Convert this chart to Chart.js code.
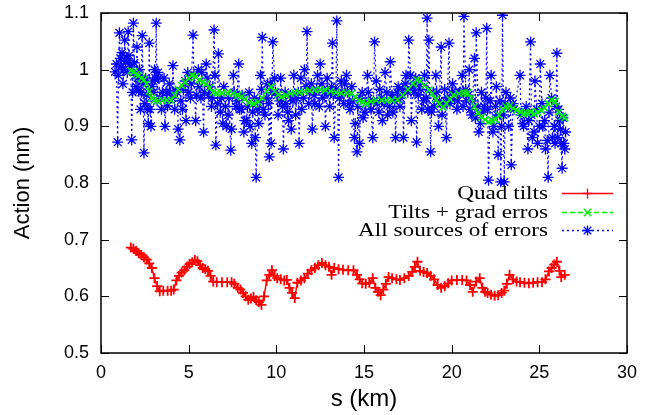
<!DOCTYPE html>
<html>
<head>
<meta charset="utf-8">
<script src="https://cdn.jsdelivr.net/npm/chart.js"></script>
<style>
  html, body { margin: 0; padding: 0; background: #fff; }
  canvas { display: block; }
</style>
</head>
<body>
<canvas id="actionChart" width="651" height="415"></canvas>
<script>
// axis settings
const xTicks = [0, 5, 10, 15, 20, 25, 30];
const yTicks = [0.5, 0.6, 0.7, 0.8, 0.9, 1.0, 1.1];
const seriesNames = ['Quad tilts', 'Tilts + grad erros', 'All sources of errors'];

// Quad tilts
const redS = [1.70, 1.85, 2.00, 2.15, 2.30, 2.45, 2.60, 2.75, 2.90, 3.05, 3.20, 3.35, 3.55, 3.80, 4.00, 4.15, 4.30, 4.45, 4.60, 4.75,
  4.90, 5.05, 5.20, 5.35, 5.50, 5.65, 5.80, 5.95, 6.10, 6.25, 6.40, 6.60, 6.90, 7.20, 7.45, 7.60, 7.80, 7.95, 8.10, 8.25,
  8.40, 8.55, 8.70, 8.85, 9.00, 9.15, 9.30, 9.45, 9.60, 9.75, 9.90, 10.05, 10.25, 10.45, 10.60, 10.75, 10.90, 11.05, 11.20, 11.40,
  11.60, 11.80, 12.00, 12.20, 12.40, 12.60, 12.80, 13.00, 13.15, 13.30, 13.55, 13.80, 14.10, 14.40, 14.60, 14.75, 14.90, 15.10, 15.30, 15.50,
  15.65, 15.80, 15.95, 16.10, 16.25, 16.40, 16.60, 16.85, 17.05, 17.30, 17.55, 17.75, 17.90, 18.05, 18.20, 18.40, 18.60, 18.80, 19.00, 19.20,
  19.40, 19.60, 19.80, 20.00, 20.30, 20.60, 20.85, 21.05, 21.20, 21.40, 21.60, 21.75, 21.90, 22.05, 22.25, 22.45, 22.65, 22.85, 23.00, 23.15,
  23.30, 23.50, 23.70, 23.90, 24.15, 24.40, 24.65, 24.90, 25.15, 25.35, 25.55, 25.70, 25.85, 26.00, 26.15, 26.25, 26.45];
const redA = [0.686, 0.684, 0.680, 0.676, 0.673, 0.669, 0.665, 0.658, 0.650, 0.632, 0.618, 0.609, 0.610, 0.610, 0.610, 0.612, 0.628, 0.636, 0.642, 0.646,
  0.652, 0.657, 0.660, 0.664, 0.662, 0.655, 0.650, 0.648, 0.645, 0.636, 0.626, 0.625, 0.625, 0.625, 0.625, 0.622, 0.615, 0.612, 0.606, 0.600,
  0.594, 0.596, 0.599, 0.593, 0.590, 0.585, 0.600, 0.628, 0.638, 0.646, 0.636, 0.632, 0.630, 0.628, 0.629, 0.615, 0.606, 0.597, 0.624, 0.628,
  0.632, 0.640, 0.646, 0.650, 0.655, 0.659, 0.655, 0.652, 0.638, 0.650, 0.648, 0.647, 0.646, 0.646, 0.638, 0.630, 0.623, 0.622, 0.624, 0.632,
  0.615, 0.608, 0.602, 0.612, 0.622, 0.634, 0.632, 0.630, 0.629, 0.632, 0.636, 0.643, 0.652, 0.661, 0.645, 0.643, 0.641, 0.636, 0.630, 0.620,
  0.615, 0.618, 0.623, 0.628, 0.629, 0.629, 0.628, 0.620, 0.608, 0.626, 0.632, 0.615, 0.608, 0.606, 0.603, 0.601, 0.602, 0.606, 0.610, 0.622,
  0.638, 0.630, 0.626, 0.625, 0.624, 0.623, 0.624, 0.625, 0.625, 0.630, 0.644, 0.650, 0.656, 0.661, 0.645, 0.634, 0.638];

// Tilts + grad errors
const greenS = [1.70, 1.85, 2.00, 2.15, 2.30, 2.45, 2.60, 2.75, 2.90, 3.05, 3.25, 3.50, 3.75, 4.00, 4.20, 4.40, 4.60, 4.80, 5.00, 5.20,
  5.40, 5.60, 5.80, 6.00, 6.20, 6.40, 6.60, 6.90, 7.20, 7.50, 7.80, 8.00, 8.20, 8.45, 8.70, 8.95, 9.20, 9.45, 9.70, 9.90,
  10.10, 10.30, 10.55, 10.80, 11.05, 11.30, 11.60, 11.90, 12.20, 12.50, 12.80, 13.10, 13.40, 13.70, 14.00, 14.30, 14.50, 14.70, 14.90, 15.10,
  15.40, 15.70, 16.00, 16.30, 16.60, 16.90, 17.20, 17.50, 17.80, 18.00, 18.20, 18.45, 18.70, 18.90, 19.10, 19.30, 19.50, 19.70, 19.90, 20.10,
  20.40, 20.70, 20.90, 21.10, 21.30, 21.50, 21.70, 21.90, 22.10, 22.30, 22.50, 22.70, 22.90, 23.10, 23.30, 23.50, 23.70, 23.90, 24.10, 24.30,
  24.50, 24.70, 24.90, 25.10, 25.30, 25.50, 25.70, 25.90, 26.10, 26.30, 26.45];
const greenA = [0.998, 0.996, 0.992, 0.990, 0.985, 0.982, 0.975, 0.962, 0.950, 0.946, 0.945, 0.946, 0.946, 0.946, 0.955, 0.965, 0.972, 0.978, 0.985, 0.990,
  0.988, 0.982, 0.978, 0.975, 0.968, 0.960, 0.959, 0.959, 0.959, 0.958, 0.955, 0.952, 0.948, 0.942, 0.940, 0.943, 0.950, 0.962, 0.970, 0.962,
  0.956, 0.952, 0.955, 0.958, 0.959, 0.960, 0.961, 0.963, 0.964, 0.965, 0.964, 0.962, 0.960, 0.959, 0.959, 0.958, 0.952, 0.946, 0.942, 0.940,
  0.944, 0.946, 0.946, 0.946, 0.946, 0.947, 0.955, 0.965, 0.975, 0.982, 0.980, 0.972, 0.964, 0.958, 0.948, 0.940, 0.934, 0.940, 0.948, 0.955,
  0.958, 0.959, 0.959, 0.950, 0.935, 0.924, 0.916, 0.912, 0.908, 0.910, 0.912, 0.920, 0.930, 0.935, 0.936, 0.932, 0.928, 0.925, 0.922, 0.923,
  0.925, 0.922, 0.925, 0.928, 0.932, 0.940, 0.946, 0.944, 0.925, 0.918, 0.915];

// All sources of errors (spread readings)
const blueS = [0.80, 0.95, 1.05, 1.15, 1.25, 1.35, 1.45, 1.55, 1.65, 1.75, 1.85, 1.95, 2.05, 2.15, 2.25, 2.35, 2.45, 2.55, 2.65, 2.75,
  2.85, 2.95, 3.05, 3.15, 3.25, 3.35, 3.50, 3.65, 3.80, 3.95, 4.10, 4.25, 4.40, 4.50, 4.65, 4.80, 4.95, 5.10, 5.25, 5.40,
  5.55, 5.70, 5.85, 6.00, 6.15, 6.30, 6.45, 6.55, 6.70, 6.85, 7.00, 7.15, 7.30, 7.40, 7.55, 7.70, 7.85, 8.00, 8.15, 8.30,
  8.45, 8.60, 8.75, 8.85, 9.00, 9.10, 9.20, 9.35, 9.50, 9.60, 9.70, 9.80, 9.95, 10.10, 10.25, 10.40, 10.55, 10.70, 10.85, 11.00,
  11.15, 11.30, 11.45, 11.60, 11.75, 11.90, 12.05, 12.20, 12.35, 12.50, 12.65, 12.80, 12.95, 13.10, 13.20, 13.30, 13.45, 13.55, 13.70, 13.85,
  14.00, 14.15, 14.30, 14.45, 14.60, 14.75, 14.90, 15.05, 15.20, 15.35, 15.50, 15.60, 15.75, 15.90, 16.05, 16.20, 16.35, 16.50, 16.65, 16.80,
  16.95, 17.10, 17.25, 17.40, 17.55, 17.70, 17.85, 18.00, 18.15, 18.30, 18.45, 18.60, 18.70, 18.80, 18.95, 19.10, 19.25, 19.40, 19.55, 19.70,
  19.85, 20.00, 20.15, 20.30, 20.45, 20.60, 20.70, 20.85, 21.00, 21.15, 21.30, 21.40, 21.55, 21.70, 21.85, 22.00, 22.10, 22.25, 22.40, 22.55,
  22.65, 22.80, 22.90, 23.00, 23.10, 23.25, 23.40, 23.55, 23.90, 24.05, 24.20, 24.35, 24.50, 24.60, 24.75, 24.90, 25.05, 25.20, 25.35, 25.50,
  25.60, 25.75, 25.90, 26.00, 26.10, 26.20, 26.30, 26.40, 26.50];
const blueA = [0.996, 0.872, 1.065, 1.005, 0.975, 1.052, 1.020, 1.067, 1.010, 0.876, 1.082, 0.990, 1.040, 0.962, 0.930, 1.060, 0.853, 0.985, 0.930, 1.047,
  0.900, 0.980, 1.000, 1.082, 0.995, 0.950, 0.960, 0.900, 0.936, 0.960, 1.007, 0.962, 0.895, 0.876, 0.930, 0.980, 0.995, 0.950, 1.061, 0.910,
  1.000, 0.950, 0.890, 1.010, 0.955, 0.935, 1.070, 0.867, 1.028, 0.950, 0.970, 0.900, 0.950, 0.858, 0.990, 0.935, 1.010, 0.930, 0.890, 0.910,
  0.960, 0.870, 0.950, 0.810, 0.905, 0.990, 1.057, 0.920, 0.975, 0.846, 0.870, 1.049, 0.960, 0.920, 0.985, 0.860, 0.940, 0.910, 0.895, 0.990,
  0.950, 0.870, 0.930, 1.000, 1.067, 0.960, 0.895, 0.940, 0.990, 1.010, 0.950, 0.900, 0.960, 0.960, 1.047, 0.880, 1.086, 0.810, 0.980, 0.940,
  0.990, 0.940, 0.970, 0.880, 0.855, 0.870, 0.960, 0.925, 0.990, 0.945, 0.880, 1.049, 0.940, 0.965, 0.910, 0.995, 0.920, 1.014, 0.925, 0.880,
  0.970, 0.950, 0.880, 0.990, 1.052, 0.910, 0.960, 0.872, 0.975, 0.930, 0.990, 1.091, 1.052, 0.855, 0.960, 0.990, 0.900, 1.040, 0.940, 0.880,
  1.047, 0.960, 0.950, 0.930, 0.960, 0.990, 1.094, 0.945, 1.000, 0.920, 1.020, 1.065, 0.890, 0.960, 0.935, 1.073, 0.805, 0.990, 0.900, 0.970,
  0.850, 0.802, 1.096, 0.802, 0.960, 0.900, 0.832, 0.930, 0.990, 0.905, 0.925, 0.860, 1.049, 0.880, 0.980, 0.870, 1.010, 0.900, 0.860, 0.810,
  0.990, 0.880, 0.870, 1.029, 0.930, 0.895, 0.826, 0.870, 0.890];

// All sources of errors (readings inside the dense band)
const blueS2 = [0.88, 1.00, 1.10, 1.20, 1.30, 1.40, 1.50, 1.60, 1.70, 1.80, 1.90, 2.00, 2.10, 2.20, 2.30, 2.40, 2.50, 2.60, 2.70, 2.80,
  2.90, 3.00, 3.10, 3.20, 3.30, 3.45, 3.60, 3.75, 3.90, 4.05, 4.20, 4.35, 4.55, 4.70, 4.85, 5.00, 5.15, 5.30, 5.45, 5.60,
  5.75, 5.90, 6.05, 6.20, 6.35, 6.50, 6.65, 6.80, 6.95, 7.10, 7.25, 7.45, 7.60, 7.75, 7.90, 8.05, 8.20, 8.35, 8.50, 8.65,
  8.80, 8.95, 9.05, 9.15, 9.25, 9.45, 9.55, 9.65, 9.75, 9.90, 10.05, 10.20, 10.35, 10.50, 10.65, 10.80, 10.95, 11.10, 11.25, 11.40,
  11.55, 11.70, 11.85, 12.00, 12.15, 12.30, 12.45, 12.60, 12.75, 12.90, 13.05, 13.15, 13.25, 13.40, 13.60, 13.75, 13.90, 14.05, 14.20, 14.35,
  14.50, 14.65, 14.80, 14.95, 15.10, 15.25, 15.40, 15.55, 15.70, 15.85, 16.00, 16.15, 16.30, 16.45, 16.60, 16.75, 16.90, 17.05, 17.20, 17.35,
  17.50, 17.65, 17.80, 17.95, 18.10, 18.25, 18.40, 18.55, 18.65, 18.85, 19.00, 19.15, 19.30, 19.45, 19.60, 19.75, 19.90, 20.05, 20.20, 20.35,
  20.50, 20.65, 20.80, 20.95, 21.05, 21.20, 21.35, 21.50, 21.65, 21.80, 21.95, 22.05, 22.20, 22.35, 22.50, 22.60, 22.75, 22.85, 22.95, 23.05,
  23.20, 23.35, 23.50, 23.95, 24.10, 24.25, 24.40, 24.55, 24.70, 24.85, 25.00, 25.15, 25.30, 25.45, 25.55, 25.70, 25.85, 25.95, 26.05, 26.15,
  26.25, 26.35, 26.45];
const blueA2 = [1.010, 0.990, 1.020, 1.030, 1.000, 1.015, 0.995, 1.025, 1.005, 0.960, 1.012, 0.970, 0.985, 1.000, 0.960, 0.975, 0.940, 0.955, 0.905, 0.930,
  0.970, 0.960, 0.985, 0.945, 0.985, 0.930, 0.985, 0.960, 0.975, 0.950, 0.930, 0.960, 0.945, 0.965, 0.910, 0.960, 0.975, 0.990, 0.955, 0.970,
  0.995, 0.960, 0.985, 0.970, 0.950, 0.990, 0.940, 0.925, 0.905, 0.935, 0.920, 0.895, 0.960, 0.945, 0.930, 0.955, 0.910, 0.935, 0.900, 0.925,
  0.880, 0.930, 0.945, 0.965, 0.930, 0.950, 0.940, 0.975, 0.960, 0.985, 0.955, 0.945, 0.935, 0.960, 0.925, 0.955, 0.945, 0.920, 0.960, 0.985,
  0.950, 0.970, 0.940, 0.975, 0.955, 0.965, 0.935, 0.975, 0.960, 0.985, 0.935, 0.970, 0.955, 0.965, 0.950, 0.960, 0.975, 0.960, 0.930, 0.945,
  0.905, 0.935, 0.950, 0.915, 0.940, 0.960, 0.930, 0.945, 0.980, 0.925, 0.950, 0.940, 0.960, 0.935, 0.955, 0.945, 0.960, 0.935, 0.965, 0.975,
  0.960, 0.990, 0.970, 0.985, 0.955, 0.965, 0.945, 0.950, 0.930, 0.925, 0.935, 0.960, 0.945, 0.920, 0.965, 0.950, 0.940, 0.975, 0.960, 0.945,
  0.960, 0.935, 0.965, 0.955, 0.930, 0.945, 0.915, 0.935, 0.905, 0.925, 0.950, 0.930, 0.945, 0.890, 0.935, 0.920, 0.945, 0.900, 0.920, 0.940,
  0.935, 0.950, 0.940, 0.920, 0.900, 0.935, 0.910, 0.920, 0.890, 0.930, 0.900, 0.940, 0.910, 0.875, 0.925, 0.950, 0.900, 0.935, 0.880, 0.910,
  0.870, 0.915, 0.860];

const toPoints = (s, a) => s.map((v, i) => ({ x: v, y: a[i] }));
const bluePoints = toPoints(blueS, blueA).concat(toPoints(blueS2, blueA2)).sort((p, q) => p.x - q.x);

const RED = '#ff0000';
const GREEN = '#00ee00';
const BLUE = '#0000ff';

// legend entries drawn gnuplot-style (text right aligned, sample on the right)
const legendRows = [
  { label: seriesNames[0], color: RED, dash: [], mark: 'plus' },
  { label: seriesNames[1], color: GREEN, dash: [5, 3], mark: 'x' },
  { label: seriesNames[2], color: BLUE, dash: [2, 3], mark: 'star' }
];

function drawMark(ctx, kind, x, y, r) {
  ctx.beginPath();
  if (kind === 'plus' || kind === 'star') {
    ctx.moveTo(x - r, y); ctx.lineTo(x + r, y);
    ctx.moveTo(x, y - r); ctx.lineTo(x, y + r);
  }
  if (kind === 'x' || kind === 'star') {
    const d = r * 0.75;
    ctx.moveTo(x - d, y - d); ctx.lineTo(x + d, y + d);
    ctx.moveTo(x - d, y + d); ctx.lineTo(x + d, y - d);
  }
  ctx.stroke();
}

const framePlugin = {
  id: 'frame',
  afterDatasetsDraw(chart) {
    const { ctx, chartArea: a, scales } = chart;
    ctx.save();
    ctx.strokeStyle = '#000';
    ctx.lineWidth = 1.5;
    ctx.strokeRect(a.left, a.top, a.right - a.left, a.bottom - a.top);
    ctx.lineWidth = 1;
    ctx.beginPath();
    xTicks.forEach(v => {
      const px = Math.round(scales.x.getPixelForValue(v)) + 0.5;
      ctx.moveTo(px, a.bottom); ctx.lineTo(px, a.bottom - 8);
      ctx.moveTo(px, a.top); ctx.lineTo(px, a.top + 8);
    });
    yTicks.forEach(v => {
      const py = Math.round(scales.y.getPixelForValue(v)) + 0.5;
      ctx.moveTo(a.left, py); ctx.lineTo(a.left + 8, py);
      ctx.moveTo(a.right, py); ctx.lineTo(a.right - 8, py);
    });
    ctx.stroke();

    // legend
    const rowY = [193, 212, 230];
    legendRows.forEach((row, i) => {
      const y = rowY[i];
      ctx.save();
      ctx.translate(548, y);
      ctx.scale(1.22, 1);
      ctx.font = '19px "Liberation Serif", "Times New Roman", serif';
      ctx.fillStyle = '#000';
      ctx.textAlign = 'right';
      ctx.textBaseline = 'middle';
      ctx.fillText(row.label, 0, 1);
      ctx.restore();

      ctx.strokeStyle = row.color;
      ctx.lineWidth = 1.3;
      ctx.setLineDash(row.dash);
      ctx.beginPath();
      ctx.moveTo(562, y + 0.5); ctx.lineTo(613, y + 0.5);
      ctx.stroke();
      ctx.setLineDash([]);
      drawMark(ctx, row.mark, 587.5, y + 0.5, 5);
    });
    ctx.restore();
  }
};

new Chart(document.getElementById('actionChart'), {
  type: 'line',
  data: {
    datasets: [
      {
        label: seriesNames[1],
        data: toPoints(greenS, greenA),
        borderColor: GREEN,
        borderWidth: 1.2,
        borderDash: [5, 3],
        pointStyle: 'crossRot',
        pointRadius: 5,
        pointBorderColor: GREEN,
        pointBorderWidth: 1.5,
        order: 0
      },
      {
        label: seriesNames[2],
        data: bluePoints,
        borderColor: BLUE,
        borderWidth: 1.2,
        borderDash: [2, 3],
        pointStyle: 'star',
        pointRadius: 5.5,
        pointBorderColor: BLUE,
        pointBorderWidth: 1.3,
        order: 1
      },
      {
        label: seriesNames[0],
        data: toPoints(redS, redA),
        borderColor: RED,
        borderWidth: 1.5,
        pointStyle: 'cross',
        pointRadius: 5,
        pointBorderColor: RED,
        pointBorderWidth: 1.8,
        order: 2
      }
    ]
  },
  options: {
    responsive: false,
    animation: false,
    layout: { padding: { top: 13, right: 24, left: 0, bottom: 0 } },
    plugins: { legend: { display: false }, tooltip: { enabled: false } },
    elements: { line: { tension: 0 } },
    scales: {
      x: {
        type: 'linear',
        min: 0,
        max: 30,
        afterFit: s => { s.height = 62; s.paddingLeft = 0; s.paddingRight = 0; },
        afterBuildTicks: s => { s.ticks = xTicks.map(v => ({ value: v })); },
        grid: { display: false, drawTicks: false },
        border: { display: false },
        ticks: {
          padding: 9,
          color: '#000',
          font: { family: '"Liberation Sans", Arial, sans-serif', size: 18 }
        },
        title: {
          display: true,
          text: 's (km)',
          color: '#000',
          padding: { top: 0, bottom: 1 },
          font: { family: '"Liberation Sans", Arial, sans-serif', size: 24 }
        }
      },
      y: {
        min: 0.5,
        max: 1.1,
        afterFit: s => { s.width = 101; s.paddingTop = 0; s.paddingBottom = 0; },
        afterBuildTicks: s => { s.ticks = yTicks.map(v => ({ value: v })); },
        grid: { display: false, drawTicks: false },
        border: { display: false },
        ticks: {
          padding: 12,
          color: '#000',
          font: { family: '"Liberation Sans", Arial, sans-serif', size: 18 },
          callback: v => String(Number(v.toFixed(2)))
        },
        title: {
          display: true,
          text: 'Action (nm)',
          color: '#000',
          padding: { top: 10, bottom: 0 },
          font: { family: '"Liberation Sans", Arial, sans-serif', size: 22 }
        }
      }
    }
  },
  plugins: [framePlugin]
});
</script>
</body>
</html>
